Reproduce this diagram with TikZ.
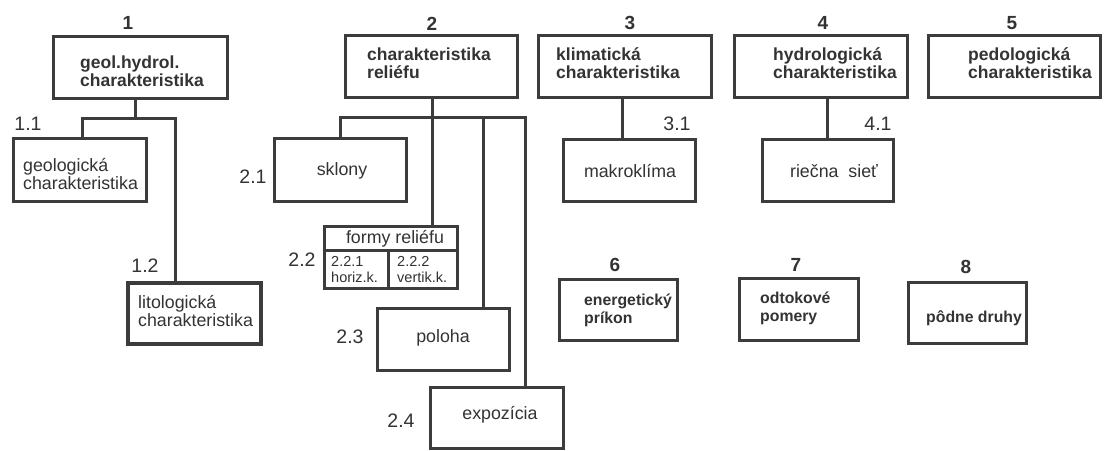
\documentclass[tikz,border=0pt]{standalone}
\usepackage{fontspec}
\setmainfont{Liberation Sans}
\definecolor{linec}{HTML}{3C3C3C}
\definecolor{textc}{HTML}{333333}
\begin{document}
\begin{tikzpicture}[x=1pt,y=-1pt,
  box/.style={draw=linec, line width=3pt, inner sep=0pt, fill=white},
  conn/.style={draw=linec, line width=3pt, line cap=rect},
  btext/.style={font=\fontsize{17.5}{17.5}\selectfont\bfseries, align=left, inner sep=0pt, anchor=west, text=textc},
  bstext/.style={font=\fontsize{15.8}{18}\selectfont\bfseries, align=left, inner sep=0pt, anchor=west, text=textc},
  rtext/.style={font=\fontsize{17.8}{18}\selectfont, align=left, inner sep=0pt, text=textc},
  stext/.style={font=\fontsize{14.5}{16.5}\selectfont, align=left, inner sep=0pt, anchor=west, text=textc},
  numlab/.style={font=\fontsize{19}{19}\selectfont\bfseries, inner sep=0pt, text=textc},
  sublab/.style={font=\fontsize{19.5}{19.5}\selectfont, inner sep=0pt, text=textc}]
\useasboundingbox (0,0) rectangle (1105,450);
\fill[white] (0,0) rectangle (1105,450);

% junction coordinates
\coordinate (j1) at (135,118);
\coordinate (j1L) at (82,118);
\coordinate (j1R) at (175,118);
\coordinate (j2) at (432,117);
\coordinate (j2L) at (340,117);
\coordinate (j2c) at (483,117);
\coordinate (j2R) at (525,117);
\coordinate (j3) at (622,117);
\coordinate (j4) at (827,117);

% connectors (drawn first, boxes on top)
\draw[conn] (j1 |- 0,98) -- (j1);
\draw[conn] (j1L |- 0,138) -- (j1L) -- (j1R) -- (j1R |- 0,283);
\draw[conn] (j2 |- 0,97) -- (j2);
\draw[conn] (j2L |- 0,138) -- (j2L) -- (j2R) -- (j2R |- 0,387);
\draw[conn] (j2) -- (j2 |- 0,226);
\draw[conn] (j2c) -- (j2c |- 0,308);
\draw[conn] (j3 |- 0,97) -- (j3 |- 0,139);
\draw[conn] (j4 |- 0,97) -- (j4 |- 0,139);

% main boxes
\node[box, minimum width=174, minimum height=62] (b1) at (140,67) {};
\node[box, minimum width=172, minimum height=62] (b2) at (431,66) {};
\node[box, minimum width=173, minimum height=62] (b3) at (624.5,66) {};
\node[box, minimum width=173, minimum height=62] (b4) at (820.5,66) {};
\node[box, minimum width=172, minimum height=62] (b5) at (1014,66) {};
\node[box, minimum width=118, minimum height=61] (b6) at (618,309.5) {};
\node[box, minimum width=119, minimum height=62] (b7) at (798.5,309) {};
\node[box, minimum width=118, minimum height=61] (b8) at (967,312.5) {};

% sub boxes
\node[box, minimum width=133, minimum height=63] (b11) at (79.5,169.5) {};
\node[box, line width=4pt, minimum width=133, minimum height=61] (b12) at (194.5,313.5) {};
\node[box, minimum width=132, minimum height=63] (b21) at (340,169.5) {};
\node[box, minimum width=133, minimum height=62] (b22) at (390.5,257) {};
\node[box, minimum width=132, minimum height=62] (b23) at (443,339) {};
\node[box, minimum width=133, minimum height=61] (b24) at (496.5,417.5) {};
\node[box, minimum width=132, minimum height=62] (b31) at (629,170) {};
\node[box, minimum width=131, minimum height=62] (b41) at (827.5,170) {};

% dividers in formy reliefu
\coordinate (d1) at (388,250);
\draw[conn, line cap=butt] (b22.west |- d1) -- (b22.east |- d1);
\draw[conn, line cap=butt] (d1) -- (d1 |- b22.south);

% texts
\node[btext] (t1) at (80,71) {geol.hydrol.\\charakteristika};
\node[btext] (t2) at (367,63) {charakteristika\\reliéfu};
\node[btext] (t3) at (556,63) {klimatická\\charakteristika};
\node[btext] (t4) at (773,63) {hydrologická\\charakteristika};
\node[btext] (t5) at (968,63) {pedologická\\charakteristika};
\node[bstext] (t6) at (584,310) {energetický\\príkon};
\node[bstext] (t7) at (760,308) {odtokové\\pomery};
\node[bstext] (t8) at (926,318) {pôdne druhy};

\node[rtext, anchor=west] (t11) at (23,174) {geologická\\charakteristika};
\node[rtext, anchor=west] (t12) at (138,311) {litologická\\charakteristika};
\node[rtext] (t21) at (342,171) {sklony};
\node[rtext] (t22) at (395,239) {formy reliéfu};
\node[stext] (t221) at (331,269.5) {2.2.1\\horiz.k.};
\node[stext] (t222) at (397,269.5) {2.2.2\\vertik.k.};
\node[rtext] (t23) at (443,338) {poloha};
\node[rtext] (t24) at (500,415) {expozícia};
\node[rtext] (t31) at (630,171) {makroklíma};
\node[rtext] (t41) at (834,171) {riečna\ \ sieť};

% number labels
\node[numlab] (n1) at (128,23) {1};
\node[numlab] (n2) at (432,24) {2};
\node[numlab] (n3) at (630,23) {3};
\node[numlab] (n4) at (823,23) {4};
\node[numlab] (n5) at (1012,23) {5};
\node[numlab] (n6) at (615,265) {6};
\node[numlab] (n7) at (796,265) {7};
\node[numlab] (n8) at (966,267) {8};

\node[sublab] (s11) at (28,124) {1.1};
\node[sublab] (s12) at (145,266) {1.2};
\node[sublab] (s21) at (253,177) {2.1};
\node[sublab] (s22) at (302,260) {2.2};
\node[sublab] (s23) at (350,337) {2.3};
\node[sublab] (s24) at (401,421) {2.4};
\node[sublab] (s31) at (677,124) {3.1};
\node[sublab] (s41) at (878,124) {4.1};
\end{tikzpicture}
\end{document}
